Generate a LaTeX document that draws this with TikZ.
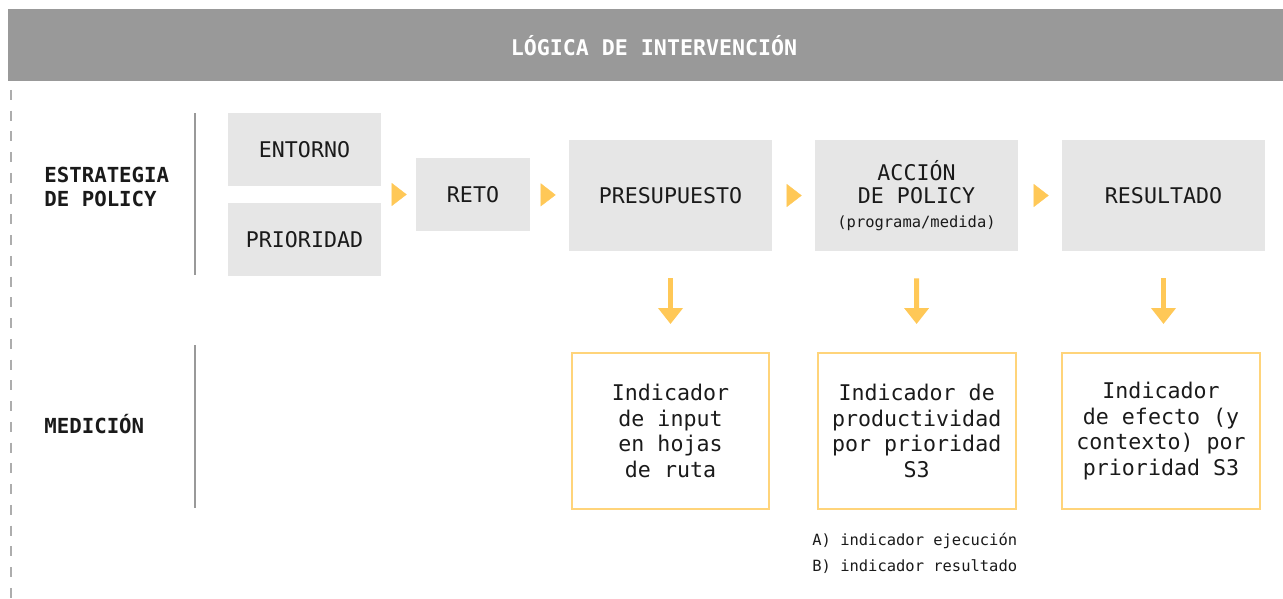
\documentclass[tikz,border=0pt]{standalone}
\usepackage{fontspec}
\setmonofont{DejaVu Sans Mono}
\usepackage{tikz}
\usetikzlibrary{arrows.meta,positioning}

\definecolor{gris}{HTML}{999999}
\definecolor{grisclaro}{HTML}{E6E6E6}
\definecolor{amarillo}{HTML}{FFC857}
\definecolor{amarilloclaro}{HTML}{FFD47A}
\definecolor{texto}{HTML}{1A1A1A}
\newcommand{\txtgrande}{\fontsize{12.3}{14.5}\selectfont}
\newcommand{\txtchico}{\fontsize{8.8}{14.7}\selectfont}

\begin{document}
\begin{tikzpicture}[x=0.02cm, y=-0.02cm, font=\ttfamily\txtgrande, text=texto,
    caja/.style={rectangle, fill=grisclaro, inner sep=0pt, align=center},
    indicador/.style={rectangle, draw=amarilloclaro, line width=0.04cm, inner sep=0pt, align=center, minimum width=3.96cm, minimum height=3.12cm},
    etiqueta/.style={font=\ttfamily\bfseries\fontsize{11.8}{13.6}\selectfont, align=left, anchor=west, inner sep=0pt},
    paso/.style={-{Triangle[length=0.30cm, width=0.46cm]}, amarillo, line width=0.2pt},
    baja/.style={-{Triangle[length=0.32cm, width=0.48cm]}, amarillo, line width=0.1cm, shorten <=0.54cm, shorten >=0.56cm}]
    \useasboundingbox (0,0) rectangle (1283,598);
    % cabecera
    \node[rectangle, fill=gris, inner sep=0pt, minimum width=25.5cm, minimum height=1.44cm] (cabecera) at (645.5,45) {};
    \node[font=\ttfamily\bfseries\txtgrande, text=white] (titulo) at (654,46) {LÓGICA DE INTERVENCIÓN};
    \draw[gris!80, line width=0.03cm, dash pattern=on 0.2cm off 0.215cm] (11,90) -- (11,598);

    % filas
    \node[etiqueta] (estrategia) at (44,187) {ESTRATEGIA\\DE POLICY};
    \node[etiqueta] (medicion) at (44,424) {MEDICIÓN};
    \draw[gris, line width=0.03cm] (195,113) -- (195,275);
    \draw[gris, line width=0.03cm] (195,345) -- (195,508);

    % cadena de la estrategia
    \node[caja, minimum width=3.06cm, minimum height=1.46cm] (entorno) at (304.5,149.5) {ENTORNO};
    \node[caja, minimum width=3.06cm, minimum height=1.46cm, below=0.32cm of entorno] (prioridad) {PRIORIDAD};
    \coordinate (grupo) at (381,194.5);
    \node[caja, minimum width=2.28cm, minimum height=1.46cm] (reto) at (473,194.5) {RETO};
    \node[caja, minimum width=4.06cm, minimum height=2.22cm] (presupuesto) at (670.5,195.5) {PRESUPUESTO};
    \node[caja, minimum width=4.06cm, minimum height=2.22cm] (accion) at (916.5,195.5) {ACCIÓN\\[-1pt]DE POLICY\\[-1pt]{\txtchico (programa/medida)}};
    \node[caja, minimum width=4.06cm, minimum height=2.22cm] (resultado) at (1163.5,195.5) {RESULTADO};

    \draw[paso, shorten <=0.22cm, shorten >=0.18cm] (grupo) -- (reto);
    \draw[paso, shorten <=0.22cm, shorten >=0.26cm] (reto) -- (presupuesto);
    \draw[paso, shorten <=0.30cm, shorten >=0.26cm] (presupuesto) -- (accion);
    \draw[paso, shorten <=0.32cm, shorten >=0.26cm] (accion) -- (resultado);

    % medicion
    \node[indicador] (input) at (670.5,431) {Indicador\\de input\\en hojas\\de ruta};
    \node[indicador] (productividad) at (916.7,431) {Indicador de\\productividad\\por prioridad\\S3};
    \node[indicador] (efecto) at (1161,431) {Indicador\\de efecto (y\\contexto) por\\prioridad S3};
    \node[font=\ttfamily\txtchico, align=left, anchor=north west, inner sep=0pt] (nota) at (812,533) {A) indicador ejecución\\B) indicador resultado};

    \draw[baja] (presupuesto) -- (input);
    \draw[baja] (accion) -- (productividad);
    \draw[baja] (resultado) -- (resultado |- efecto.north);
\end{tikzpicture}
\end{document}
